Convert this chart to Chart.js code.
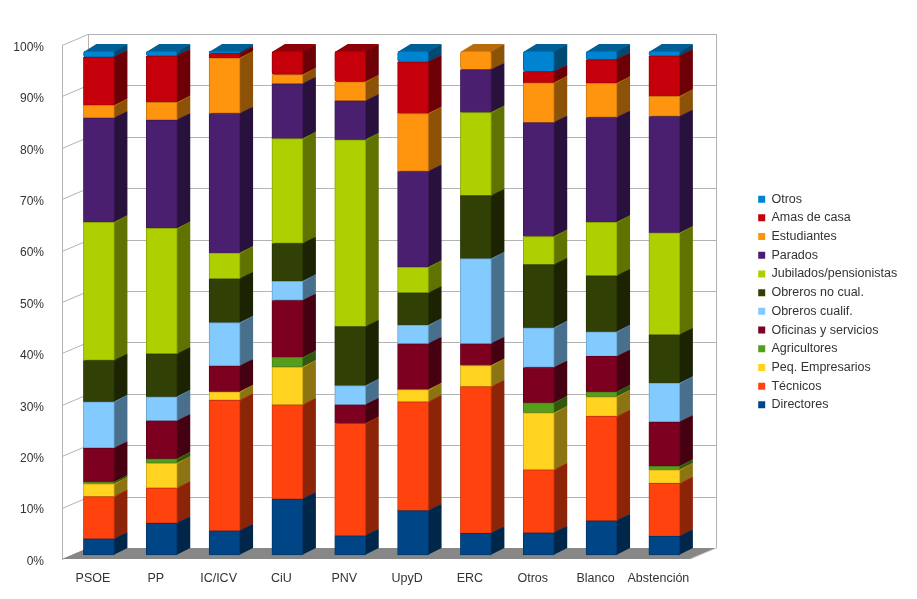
<!DOCTYPE html>
<html>
<head>
<meta charset="utf-8">
<script src="https://cdn.jsdelivr.net/npm/chart.js@4.4.1/dist/chart.umd.min.js"></script>
<style>
  html, body { margin: 0; padding: 0; background: #fff; }
  #wrap { width: 917px; height: 599px; }
</style>
</head>
<body>
<div id="wrap"><canvas id="chart" width="917" height="599"></canvas></div>
<script>
// Categories (x axis)
const categories = ['PSOE', 'PP', 'IC/ICV', 'CiU', 'PNV', 'UpyD', 'ERC', 'Otros', 'Blanco', 'Abstención'];

// Series values in % (bottom of the stack first)
const directores     = [3.2, 6.3, 4.8, 11.1, 3.8, 8.8, 4.3, 4.4, 6.8, 3.7];
const tecnicos       = [8.4, 7.0, 25.9, 18.7, 22.3, 21.6, 29.1, 12.5, 20.7, 10.5];
const peqEmpresarios = [2.5, 4.9, 1.7, 7.5, 0, 2.4, 4.2, 11.3, 3.9, 2.7];
const agricultores   = [0.4, 0.9, 0, 1.9, 0, 0, 0, 2.0, 1.0, 0.7];
const oficinas       = [6.7, 7.5, 5.1, 11.3, 3.7, 9.1, 4.3, 7.0, 7.0, 8.8];
const obrerosCualif  = [9.2, 4.8, 8.6, 3.8, 3.8, 3.7, 16.9, 7.9, 4.9, 7.7];
const obrerosNoCual  = [8.2, 8.5, 8.7, 7.5, 11.7, 6.4, 12.5, 12.5, 11.1, 9.6];
const jubilados      = [27.4, 24.9, 5.1, 20.8, 37.1, 5.1, 16.5, 5.6, 10.6, 20.2];
const parados        = [20.7, 21.5, 27.7, 10.9, 7.7, 19.0, 8.5, 22.6, 20.8, 23.1];
const estudiantes    = [2.5, 3.5, 11.0, 1.8, 3.8, 11.5, 3.7, 7.9, 6.8, 4.0];
const amasDeCasa     = [9.6, 9.2, 0.9, 4.7, 6.1, 10.2, 0, 2.2, 4.7, 8.0];
const otros          = [1.2, 1.0, 0.5, 0, 0, 2.2, 0, 4.1, 1.7, 1.0];

const seriesNames = ['Directores', 'Técnicos', 'Peq. Empresarios', 'Agricultores', 'Oficinas y servicios',
    'Obreros cualif.', 'Obreros no cual.', 'Jubilados/pensionistas', 'Parados', 'Estudiantes', 'Amas de casa', 'Otros'];
const seriesValues = [directores, tecnicos, peqEmpresarios, agricultores, oficinas,
    obrerosCualif, obrerosNoCual, jubilados, parados, estudiantes, amasDeCasa, otros];
const seriesColors = ['#004586', '#ff420e', '#ffd320', '#579d1c', '#7e0021',
    '#83caff', '#314004', '#aecf00', '#4b1f6f', '#ff950e', '#c5000b', '#0084d1'];

// y tick labels
const yTicks = [0, 10, 20, 30, 40, 50, 60, 70, 80, 90, 100];

function shade(hex, f) {
    const n = parseInt(hex.slice(1), 16);
    const r = Math.round(((n >> 16) & 255) * f);
    const g = Math.round(((n >> 8) & 255) * f);
    const b = Math.round((n & 255) * f);
    return 'rgb(' + r + ',' + g + ',' + b + ')';
}

// Draws walls, floor and the side/top faces of the boxes (fronts are drawn by Chart.js)
const threeD = {
    id: 'threeD',
    beforeDatasetsDraw(chart) {
        const ctx = chart.ctx;
        const area = chart.chartArea;
        const yf = chart.scales.yFront;
        const fl = area.left - 5.5, fr = area.right - 5.5;
        const wx = 26, wy = -11;
        const y0 = yf.getPixelForValue(0), y100 = yf.getPixelForValue(100);
        ctx.save();
        ctx.lineWidth = 1;
        ctx.strokeStyle = '#b3b3b3';
        // grid on left and back walls
        yTicks.forEach(v => {
            const y = Math.round(yf.getPixelForValue(v)) + 0.5;
            ctx.beginPath();
            ctx.moveTo(fl, y);
            ctx.lineTo(fl + wx, y + wy);
            ctx.lineTo(fr + wx, y + wy);
            ctx.stroke();
        });
        ctx.beginPath();
        ctx.moveTo(Math.round(fl) + 0.5, y0);
        ctx.lineTo(Math.round(fl) + 0.5, y100);
        ctx.moveTo(Math.round(fl + wx) + 0.5, y0 + wy);
        ctx.lineTo(Math.round(fl + wx) + 0.5, y100 + wy);
        ctx.moveTo(Math.round(fr + wx) + 0.5, y0 + wy);
        ctx.lineTo(Math.round(fr + wx) + 0.5, y100 + wy);
        ctx.stroke();
        // floor
        ctx.fillStyle = '#878787';
        ctx.beginPath();
        ctx.moveTo(fl, y0);
        ctx.lineTo(fr, y0);
        ctx.lineTo(fr + wx, y0 + wy);
        ctx.lineTo(fl + wx, y0 + wy);
        ctx.closePath();
        ctx.fill();
        ctx.strokeStyle = '#c8c8c8';
        ctx.beginPath();
        ctx.moveTo(fr, y0);
        ctx.lineTo(fr + wx, y0 + wy);
        ctx.stroke();

        // side and top faces of each box
        const dx = 13, dy = -7;
        chart.data.datasets.forEach((ds, di) => {
            const meta = chart.getDatasetMeta(di);
            const col = seriesColors[di];
            meta.data.forEach(bar => {
                const p = bar.getProps(['x', 'y', 'base', 'width'], true);
                if (Math.abs(p.base - p.y) < 0.5) return;
                const L = p.x - p.width / 2, R = p.x + p.width / 2;
                const T = Math.min(p.y, p.base), B = Math.max(p.y, p.base);
                ctx.fillStyle = shade(col, 0.55);
                ctx.beginPath();
                ctx.moveTo(R - 1, T);
                ctx.lineTo(R + dx, T + dy);
                ctx.lineTo(R + dx, B + dy);
                ctx.lineTo(R - 1, B);
                ctx.closePath();
                ctx.fill();
                ctx.fillStyle = shade(col, 0.72);
                ctx.beginPath();
                ctx.moveTo(L, T + 1);
                ctx.lineTo(L + dx, T + dy);
                ctx.lineTo(R + dx, T + dy);
                ctx.lineTo(R, T + 1);
                ctx.closePath();
                ctx.fill();
            });
        });
        ctx.restore();
    }
};

const datasets = seriesNames.map((name, i) => ({
    label: name,
    data: seriesValues[i],
    backgroundColor: seriesColors[i],
    borderColor: shade(seriesColors[i], 0.8),
    borderWidth: 1,
    borderRadius: 3,
    borderSkipped: false,
    barThickness: 31,
    yAxisID: 'y'
}));

const ctx = document.getElementById('chart').getContext('2d');
new Chart(ctx, {
    type: 'bar',
    data: { labels: categories, datasets: datasets },
    options: {
        responsive: false,
        animation: false,
        layout: { padding: { top: 45, right: 14.6, bottom: 0, left: 0 } },
        font: { family: '"Liberation Sans", Arial, sans-serif', size: 12 },
        scales: {
            x: {
                stacked: true,
                grid: { display: false },
                border: { display: false },
                ticks: { color: '#333', font: { size: 12.5 }, labelOffset: -6, padding: 4, maxRotation: 0, autoSkip: false },
                afterFit: s => { s.height = 40; }
            },
            y: {
                stacked: true,
                position: 'right',
                min: -0.79,
                max: 101.19,
                grid: { display: false },
                border: { display: false },
                ticks: { display: false },
                afterFit: s => { s.width = 56.2; }
            },
            yFront: {
                position: 'left',
                min: 0,
                max: 100,
                afterBuildTicks: s => { s.ticks = yTicks.map(v => ({ value: v })); },
                grid: { display: false },
                border: { display: false },
                ticks: { color: '#333', font: { size: 12 }, padding: 15.5, labelOffset: 2.5, callback: v => v + '%' },
                afterFit: s => { s.width = 67.5; }
            }
        },
        plugins: {
            tooltip: { enabled: false },
            legend: {
                position: 'right',
                fullSize: false,
                reverse: true,
                labels: {
                    color: '#333',
                    font: { size: 12.5 },
                    boxWidth: 7,
                    boxHeight: 7,
                    padding: 6.2,
                    generateLabels: chart => Chart.defaults.plugins.legend.labels.generateLabels(chart)
                        .map(l => Object.assign(l, { lineWidth: 0, strokeStyle: l.fillStyle }))
                }
            }
        }
    },
    plugins: [threeD]
});
</script>
</body>
</html>
